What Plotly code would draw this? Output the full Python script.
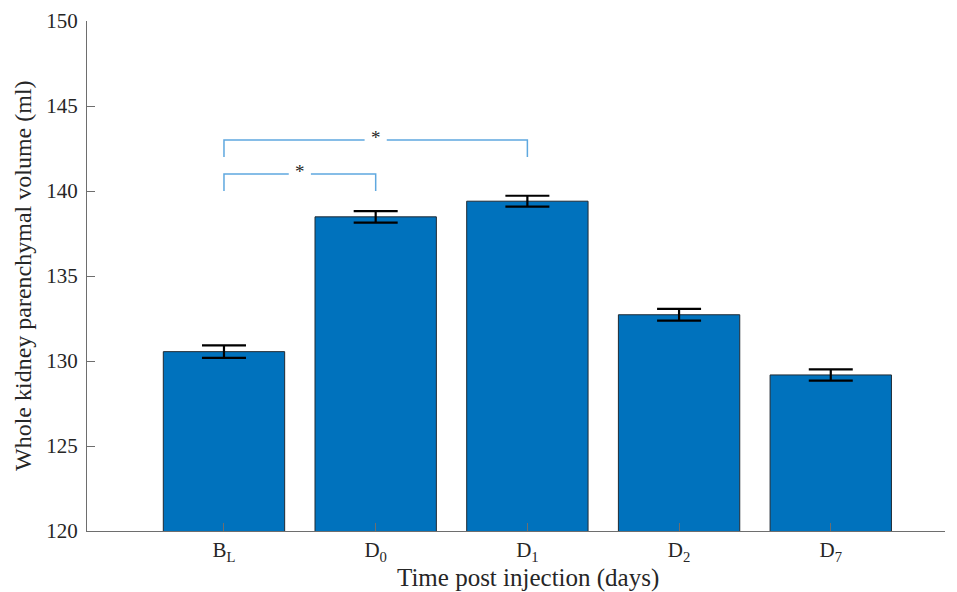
import plotly.graph_objects as go

# Data
categories = ["B<sub>L</sub>", "D<sub>0</sub>", "D<sub>1</sub>", "D<sub>2</sub>", "D<sub>7</sub>"]
positions = [1, 2, 3, 4, 5]
volumes = [130.55, 138.48, 139.40, 132.72, 129.18]
errors = [0.37, 0.34, 0.32, 0.35, 0.33]
y_ticks = [120, 125, 130, 135, 140, 145, 150]

# significance brackets: (left index, right index), bracket top level, drop
sig_pairs = [(0, 1), (0, 2)]
sig_levels = [141.0, 143.0]
sig_drop = 1.0
sig_labels = ["*", "*"]

bar_color = "#0072BD"
sig_color = "#5FA8DF"
text_color = "#262626"
axis_color = "#6e6e6e"
font_family = "Liberation Serif, DejaVu Serif, serif"

fig = go.Figure()
fig.add_trace(go.Bar(
    x=positions, y=volumes, width=0.8,
    marker=dict(color=bar_color, line=dict(color="#1f2a33", width=1)),
    error_y=dict(type="data", array=errors, visible=True,
                 color="black", thickness=2.2, width=22),
    showlegend=False,
))

gap = 0.073
for (i, j), lvl, lab in zip(sig_pairs, sig_levels, sig_labels):
    xl, xr = positions[i], positions[j]
    xm = (xl + xr) / 2
    fig.add_trace(go.Scatter(
        x=[xl, xl, xm - gap, None, xm + gap, xr, xr],
        y=[lvl - sig_drop, lvl, lvl, None, lvl, lvl, lvl - sig_drop],
        mode="lines", line=dict(color=sig_color, width=1.5),
        showlegend=False, hoverinfo="skip", cliponaxis=False,
    ))
    fig.add_annotation(x=xm, y=lvl, text=lab, showarrow=False,
                       xanchor="center", yanchor="middle", yshift=3,
                       font=dict(size=19, color=text_color, family=font_family))

# axis titles as paper-anchored text
L, R, T, B = 87, 945, 21, 531
fig.add_annotation(xref="paper", yref="paper", x=(528 - L) / (R - L), y=-(578 - B) / (B - T),
                   text="Time post injection (days)", showarrow=False,
                   xanchor="center", yanchor="middle",
                   font=dict(size=25, color=text_color, family=font_family))
fig.add_annotation(xref="paper", yref="paper", x=-(L - 23) / (R - L), y=0.5,
                   text="Whole kidney parenchymal volume (ml)", showarrow=False, textangle=-90,
                   xanchor="center", yanchor="middle",
                   font=dict(size=24, color=text_color, family=font_family))

fig.update_layout(
    width=957, height=592,
    margin=dict(l=L, r=957 - R, t=T, b=592 - B, autoexpand=False),
    plot_bgcolor="white", paper_bgcolor="white",
    font=dict(family=font_family, color=text_color, size=16),
    bargap=0.2,
)
fig.update_xaxes(
    range=[0.097, 5.753], tickmode="array", tickvals=positions, ticktext=categories,
    showline=True, linecolor=axis_color, linewidth=1,
    ticks="inside", ticklen=8, tickcolor=axis_color,
    showgrid=False, zeroline=False, automargin=False,
    tickfont=dict(size=21, color=text_color),
)
fig.update_yaxes(
    range=[120, 150], tickmode="array", tickvals=y_ticks,
    showline=True, linecolor=axis_color, linewidth=1,
    ticks="inside", ticklen=8, tickcolor=axis_color,
    showgrid=False, zeroline=False, automargin=False,
    tickfont=dict(size=21, color=text_color), ticklabelstandoff=4,
)

fig.write_html("out.html", config={"displayModeBar": False},
               post_script="document.body.style.margin='0px';document.body.style.overflow='hidden';")
